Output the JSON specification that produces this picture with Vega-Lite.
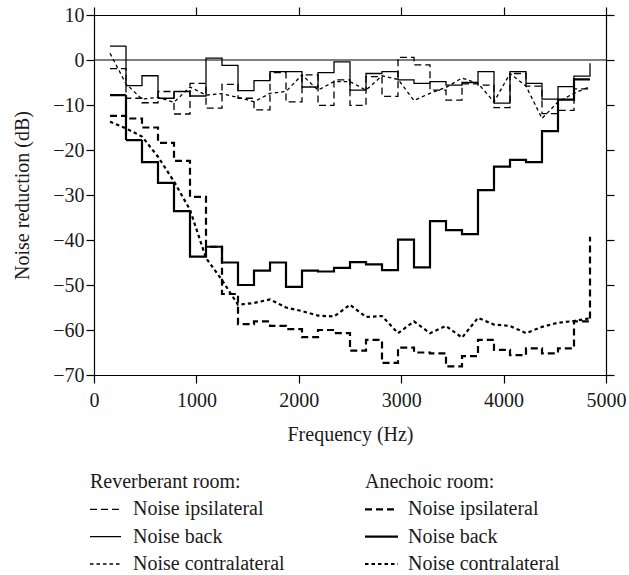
{
  "$schema": "https://vega.github.io/schema/vega-lite/v6.json",
  "padding": {"left": 12, "top": 5, "right": 5, "bottom": 5},
  "background": "white",
  "config": {
    "font": "Liberation Serif",
    "view": {"stroke": null},
    "concat": {"spacing": 10},
    "axis": {
      "domainColor": "black", "tickColor": "black", "domainWidth": 1.2, "tickWidth": 1.2,
      "grid": false, "labelFont": "Liberation Serif", "labelFontSize": 20, "labelColor": "#1a1a1a",
      "titleFont": "Liberation Serif", "titleFontSize": 20, "titleFontWeight": "normal", "titleColor": "#1a1a1a",
      "tickSize": 8, "labelPadding": 2, "labelFlush": false, "labelOverlap": false
    }
  },
  "datasets": {
    "curves": [
      {"f": 156.25, "ri": -1.9, "rb": 3.1, "rc": 1.5, "ai": -12.4, "ab": -7.8, "ac": -13.7},
      {"f": 312.5, "ri": -8.5, "rb": -5.7, "rc": -5.3, "ai": -13, "ab": -17.8, "ac": -15.2},
      {"f": 468.75, "ri": -9.5, "rb": -3.5, "rc": -8.7, "ai": -15, "ab": -22.7, "ac": -17},
      {"f": 625, "ri": -7, "rb": -8.5, "rc": -8.3, "ai": -18.4, "ab": -27.3, "ac": -21.5},
      {"f": 781.25, "ri": -12, "rb": -7, "rc": -9.4, "ai": -22.4, "ab": -33.6, "ac": -27},
      {"f": 937.5, "ri": -5.2, "rb": -8, "rc": -6, "ai": -30.4, "ab": -43.7, "ac": -33.3},
      {"f": 1093.75, "ri": -10.7, "rb": 0.4, "rc": -7.8, "ai": -41.5, "ab": -41.5, "ac": -44},
      {"f": 1250, "ri": -5.4, "rb": -1.2, "rc": -7.5, "ai": -52, "ab": -45, "ac": -48.9},
      {"f": 1406.25, "ri": -8.5, "rb": -6.8, "rc": -8.3, "ai": -58.7, "ab": -50, "ac": -54.4},
      {"f": 1562.5, "ri": -11.1, "rb": -4.6, "rc": -9.3, "ai": -58.1, "ab": -46.8, "ac": -54},
      {"f": 1718.75, "ri": -2.8, "rb": -2.6, "rc": -7.4, "ai": -59.1, "ab": -45, "ac": -53.2},
      {"f": 1875, "ri": -9.3, "rb": -2.6, "rc": -7, "ai": -59.8, "ab": -50.4, "ac": -55},
      {"f": 2031.25, "ri": -3.3, "rb": -6, "rc": -3.3, "ai": -61.6, "ab": -46.8, "ac": -55.8},
      {"f": 2187.5, "ri": -10.1, "rb": -2.8, "rc": -6.7, "ai": -60, "ab": -47, "ac": -56.8},
      {"f": 2343.75, "ri": -4.4, "rb": -0.4, "rc": -4.8, "ai": -60.7, "ab": -46.2, "ac": -57},
      {"f": 2500, "ri": -10.1, "rb": -6.7, "rc": -4.8, "ai": -64.6, "ab": -44.9, "ac": -54.4},
      {"f": 2656.25, "ri": -3.7, "rb": -3, "rc": -6.7, "ai": -62.2, "ab": -45.4, "ac": -57.1},
      {"f": 2812.5, "ri": -8.1, "rb": -2.6, "rc": -3.5, "ai": -67.3, "ab": -46.7, "ac": -56.9},
      {"f": 2968.75, "ri": 0.6, "rb": -4.4, "rc": -4.3, "ai": -63.9, "ab": -39.9, "ac": -60.7},
      {"f": 3125, "ri": -1.1, "rb": -5.2, "rc": -9, "ai": -65, "ab": -46.1, "ac": -58.1},
      {"f": 3281.25, "ri": -6.7, "rb": -4.8, "rc": -7.4, "ai": -65.2, "ab": -35.8, "ac": -60.7},
      {"f": 3437.5, "ri": -8.9, "rb": -5.6, "rc": -6.1, "ai": -68.1, "ab": -37.8, "ac": -59.1},
      {"f": 3593.75, "ri": -5.3, "rb": -5, "rc": -4, "ai": -65.8, "ab": -38.7, "ac": -61.7},
      {"f": 3750, "ri": -5.6, "rb": -2.6, "rc": -5.2, "ai": -62.2, "ab": -28.9, "ac": -57.3},
      {"f": 3906.25, "ri": -10.6, "rb": -9.6, "rc": -9.3, "ai": -64.4, "ab": -23.7, "ac": -58.8},
      {"f": 4062.5, "ri": -3, "rb": -2.6, "rc": -3, "ai": -65.6, "ab": -22.2, "ac": -59.1},
      {"f": 4218.75, "ri": -5.8, "rb": -5.2, "rc": -5.8, "ai": -64.1, "ab": -22.7, "ac": -60.7},
      {"f": 4375, "ri": -11.9, "rb": -8.7, "rc": -13, "ai": -65.2, "ab": -15.8, "ac": -59.3},
      {"f": 4531.25, "ri": -11.2, "rb": -5.9, "rc": -9.3, "ai": -64.1, "ab": -8.8, "ac": -58.4},
      {"f": 4687.5, "ri": -6.4, "rb": -3.6, "rc": -7.4, "ai": -58.1, "ab": -4.3, "ac": -58},
      {"f": 4843.75, "ri": -6.4, "rb": -0.7, "rc": -5.9, "ai": -39.3, "ab": -4.3, "ac": -57.4}
    ],
    "legend": [
      {"col": 0, "row": 0, "label": "Reverberant room:", "series": "title"},
      {"col": 1, "row": 0, "label": "Anechoic room:", "series": "title"},
      {"col": 0, "row": 1, "label": "Noise ipsilateral", "series": "ri"},
      {"col": 0, "row": 2, "label": "Noise back", "series": "rb"},
      {"col": 0, "row": 3, "label": "Noise contralateral", "series": "rc"},
      {"col": 1, "row": 1, "label": "Noise ipsilateral", "series": "ai"},
      {"col": 1, "row": 2, "label": "Noise back", "series": "ab"},
      {"col": 1, "row": 3, "label": "Noise contralateral", "series": "ac"}
    ]
  },
  "vconcat": [
    {
      "width": 512,
      "height": 360,
      "data": {"name": "curves"},
      "transform": [{"fold": ["ri", "rb", "rc", "ai", "ab", "ac"], "as": ["series", "v"]}],
      "layer": [
        {
          "transform": [{"filter": "datum.series === 'ri' || datum.series === 'rb'"}],
          "mark": {"type": "line", "interpolate": "step-after", "strokeWidth": 1.3, "color": "black"},
          "encoding": {
            "x": {"field": "f", "type": "quantitative", "scale": {"domain": [0, 5000], "nice": false, "zero": false},
              "axis": {"orient": "bottom", "values": [0, 1000, 2000, 3000, 4000, 5000], "format": "d", "title": "Frequency (Hz)", "labelPadding": 7, "titlePadding": 14}},
            "y": {"field": "v", "type": "quantitative", "scale": {"domain": [-70, 10], "nice": false, "zero": false},
              "axis": {"orient": "left", "values": [-70, -60, -50, -40, -30, -20, -10, 0, 10], "title": "Noise reduction (dB)", "titlePadding": 20}},
            "strokeDash": {"field": "series", "type": "nominal", "legend": null,
              "scale": {"domain": ["ri", "rb", "rc", "ai", "ab", "ac"], "range": [[7, 4], [1, 0], [3.5, 3], [7, 4], [1, 0], [3.5, 3]]}}
          }
        },
        {
          "transform": [{"filter": "datum.series === 'ai' || datum.series === 'ab'"}],
          "mark": {"type": "line", "interpolate": "step-after", "strokeWidth": 2.2, "color": "black"},
          "encoding": {
            "x": {"field": "f", "type": "quantitative", "scale": {"domain": [0, 5000], "nice": false, "zero": false}, "axis": null},
            "y": {"field": "v", "type": "quantitative", "scale": {"domain": [-70, 10], "nice": false, "zero": false}, "axis": null},
            "strokeDash": {"field": "series", "type": "nominal", "legend": null,
              "scale": {"domain": ["ri", "rb", "rc", "ai", "ab", "ac"], "range": [[7, 4], [1, 0], [3.5, 3], [7, 4], [1, 0], [3.5, 3]]}}
          }
        },
        {
          "transform": [{"filter": "datum.series === 'rc'"}],
          "mark": {"type": "line", "strokeWidth": 1.3, "color": "black"},
          "encoding": {
            "x": {"field": "f", "type": "quantitative", "scale": {"domain": [0, 5000], "nice": false, "zero": false},
              "axis": {"orient": "top", "values": [0, 1000, 2000, 3000, 4000, 5000], "labels": false, "title": null}},
            "y": {"field": "v", "type": "quantitative", "scale": {"domain": [-70, 10], "nice": false, "zero": false},
              "axis": {"orient": "right", "values": [-70, -60, -50, -40, -30, -20, -10, 0, 10], "labels": false, "title": null}},
            "strokeDash": {"field": "series", "type": "nominal", "legend": null,
              "scale": {"domain": ["ri", "rb", "rc", "ai", "ab", "ac"], "range": [[7, 4], [1, 0], [3.5, 3], [7, 4], [1, 0], [3.5, 3]]}}
          }
        },
        {
          "transform": [{"filter": "datum.series === 'ac'"}],
          "mark": {"type": "line", "strokeWidth": 2.2, "color": "black"},
          "encoding": {
            "x": {"field": "f", "type": "quantitative", "scale": {"domain": [0, 5000], "nice": false, "zero": false}, "axis": null},
            "y": {"field": "v", "type": "quantitative", "scale": {"domain": [-70, 10], "nice": false, "zero": false}, "axis": null},
            "strokeDash": {"field": "series", "type": "nominal", "legend": null,
              "scale": {"domain": ["ri", "rb", "rc", "ai", "ab", "ac"], "range": [[7, 4], [1, 0], [3.5, 3], [7, 4], [1, 0], [3.5, 3]]}}
          }
        },
        {
          "data": {"values": [{"zero": 0}]},
          "mark": {"type": "rule", "color": "black", "strokeWidth": 1.2},
          "encoding": {
            "y": {"field": "zero", "type": "quantitative", "scale": {"domain": [-70, 10], "nice": false, "zero": false}, "axis": null}
          }
        }
      ],
      "resolve": {"axis": {"x": "independent", "y": "independent"}}
    },
    {
      "width": 512,
      "height": 115,
      "data": {"name": "legend"},
      "encoding": {
        "x": {"field": "col", "type": "quantitative", "scale": {"domain": [0, 1], "range": [-4, 271]}, "axis": null},
        "y": {"field": "row", "type": "quantitative", "scale": {"domain": [0, 3], "range": [28, 110]}, "axis": null}
      },
      "layer": [
        {
          "transform": [{"filter": "datum.row === 0"}],
          "mark": {"type": "text", "align": "left", "baseline": "middle", "fontSize": 20, "color": "#1a1a1a", "font": "Liberation Serif"},
          "encoding": {"text": {"field": "label"}}
        },
        {
          "transform": [{"filter": "datum.row > 0"}],
          "mark": {"type": "text", "align": "left", "baseline": "middle", "fontSize": 20, "dx": 43, "color": "#1a1a1a", "font": "Liberation Serif"},
          "encoding": {"text": {"field": "label"}}
        },
        {
          "transform": [{"filter": "datum.row > 0 && datum.col === 0"}],
          "mark": {"type": "rule", "color": "black", "strokeWidth": 1.3, "x2Offset": 31},
          "encoding": {
            "x2": {"field": "col"},
            "strokeDash": {"field": "series", "type": "nominal", "legend": null,
              "scale": {"domain": ["ri", "rb", "rc", "ai", "ab", "ac"], "range": [[7, 4], [1, 0], [3.5, 3], [7, 4], [1, 0], [3.5, 3]]}}
          }
        },
        {
          "transform": [{"filter": "datum.row > 0 && datum.col === 1"}],
          "mark": {"type": "rule", "color": "black", "strokeWidth": 2.2, "x2Offset": 33},
          "encoding": {
            "x2": {"field": "col"},
            "strokeDash": {"field": "series", "type": "nominal", "legend": null,
              "scale": {"domain": ["ri", "rb", "rc", "ai", "ab", "ac"], "range": [[7, 4], [1, 0], [3.5, 3], [7, 4], [1, 0], [3.5, 3]]}}
          }
        }
      ]
    }
  ]
}
